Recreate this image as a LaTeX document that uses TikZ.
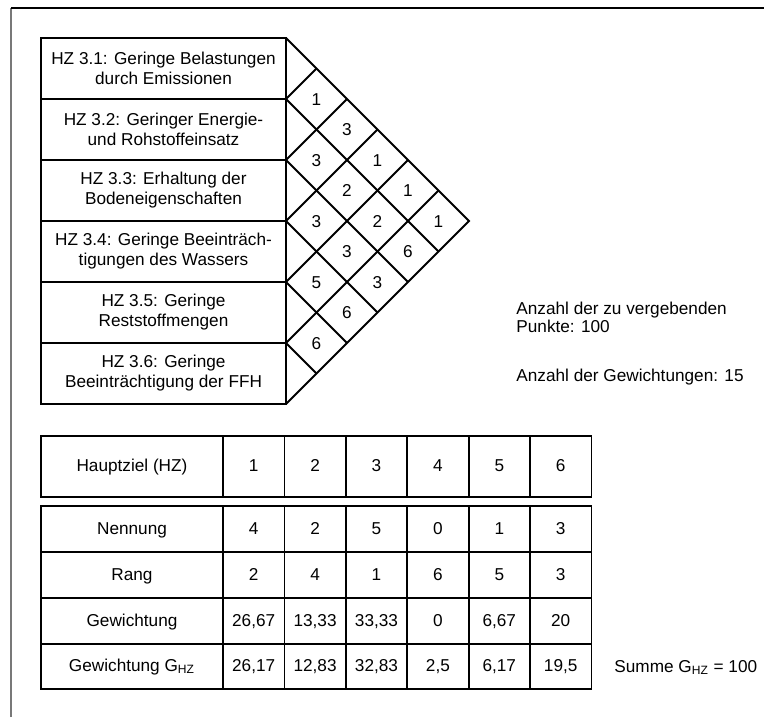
\documentclass[tikz,border=0pt]{standalone}
\usepackage{fontspec}
\setmainfont{Liberation Sans}
\usetikzlibrary{positioning,calc}
\definecolor{frameclr}{RGB}{120,120,120}
\tikzset{
  hzbox/.style={rectangle,draw,line width=0.9pt,outer sep=0pt,inner sep=1pt,
                minimum width=122.5pt,minimum height=30.5pt,align=center,
                font=\fontsize{8.6}{10}\selectfont},
  cellnum/.style={inner sep=0pt,text height=6.2pt,text depth=0pt,
                  font=\fontsize{8.6}{10}\selectfont},
  grid/.style={line width=0.9pt,line join=miter},
  tab/.style={rectangle,draw,line width=0.9pt,outer sep=0pt,inner sep=0pt,
              minimum width=30.7pt,minimum height=23pt,
              text height=6.2pt,text depth=1.2pt,
              font=\fontsize{8.6}{10}\selectfont},
  tabhead/.style={tab,minimum width=91pt},
  note/.style={inner sep=0pt,align=left,font=\fontsize{8.6}{8.6}\selectfont},
}

\begin{document}
\begin{tikzpicture}[x=0.5pt,y=-0.5pt]
\useasboundingbox (0,0) rectangle (764,717);
\draw[frameclr,line width=0.6pt] (11,717) -- (11,8);
\draw[line width=0.8pt] (11,8) -- (764,8);

% Hauptziele
\node[hzbox] (hz1) at (163.5,68.5) {HZ 3.1: Geringe Belastungen\\durch Emissionen};
\node[hzbox,below=0pt of hz1] (hz2) {HZ 3.2: Geringer Energie-\\und Rohstoffeinsatz};
\node[hzbox,below=0pt of hz2] (hz3) {HZ 3.3: Erhaltung der\\Bodeneigenschaften};
\node[hzbox,below=0pt of hz3] (hz4) {HZ 3.4: Geringe Beeintr\"ach-\\tigungen des Wassers};
\node[hzbox,below=0pt of hz4] (hz5) {HZ 3.5: Geringe\\Reststoffmengen};
\node[hzbox,below=0pt of hz5] (hz6) {HZ 3.6: Geringe\\Beeintr\"achtigung der FFH};

% paarweiser Vergleich
\foreach \k in {0,...,6} \coordinate (p\k) at (286,{38+61*\k});
\coordinate (tip) at (469,221);
\draw[grid] (p0) -- (tip) -- (p6);
\foreach \k in {1,...,5}
  \draw[grid] ($(p\k)+({30.5*\k},{-30.5*\k})$) -- (p\k)
              -- ++({30.5*(6-\k)},{30.5*(6-\k)});
\foreach \i/\j/\v in {1/2/1,1/3/3,1/4/1,1/5/1,1/6/1,2/3/3,2/4/2,2/5/2,2/6/6,
                      3/4/3,3/5/3,3/6/3,4/5/5,4/6/6,5/6/6}
  \node[cellnum] (c\i\j) at ({286+30.5*(\j-\i)},{38+30.5*(\i+\j-1)}) {\v};

\node[note,anchor=north west] (pts) at (516,302) {Anzahl der zu vergebenden\\Punkte: 100};
\node[note,anchor=north west] (cnt) at (516,369) {Anzahl der Gewichtungen: 15};

% Tabelle
\node[tabhead,minimum height=30.5pt] (h0) at (132,466.5) {Hauptziel (HZ)};
\foreach \c in {1,...,6} {
  \pgfmathtruncatemacro\p{\c-1}
  \node[tab,minimum height=30.5pt,right=0pt of h\p] (h\c) {\c};
}
\node[tabhead,below=4.5pt of h0] (n0) {Nennung};
\foreach \v [count=\c] in {4,2,5,0,1,3} {
  \pgfmathtruncatemacro\p{\c-1}
  \node[tab,right=0pt of n\p] (n\c) {\v};
}
\node[tabhead,below=0pt of n0] (r0) {Rang};
\foreach \v [count=\c] in {2,4,1,6,5,3}
  \node[tab,below=0pt of n\c] (r\c) {\v};
\node[tabhead,below=0pt of r0] (g0) {Gewichtung};
\foreach \v [count=\c] in {{26,67},{13,33},{33,33},0,{6,67},20}
  \node[tab,below=0pt of r\c] (g\c) {\v};
\node[tabhead,below=0pt of g0,minimum height=22.5pt] (s0) {Gewichtung G\textsubscript{HZ}};
\foreach \v [count=\c] in {{26,17},{12,83},{32,83},{2,5},{6,17},{19,5}}
  \node[tab,below=0pt of g\c,minimum height=22.5pt] (s\c) {\v};

\node[note,anchor=base west] (sum) at (614,672.5) {Summe G\textsubscript{HZ} = 100};
\end{tikzpicture}
\end{document}
